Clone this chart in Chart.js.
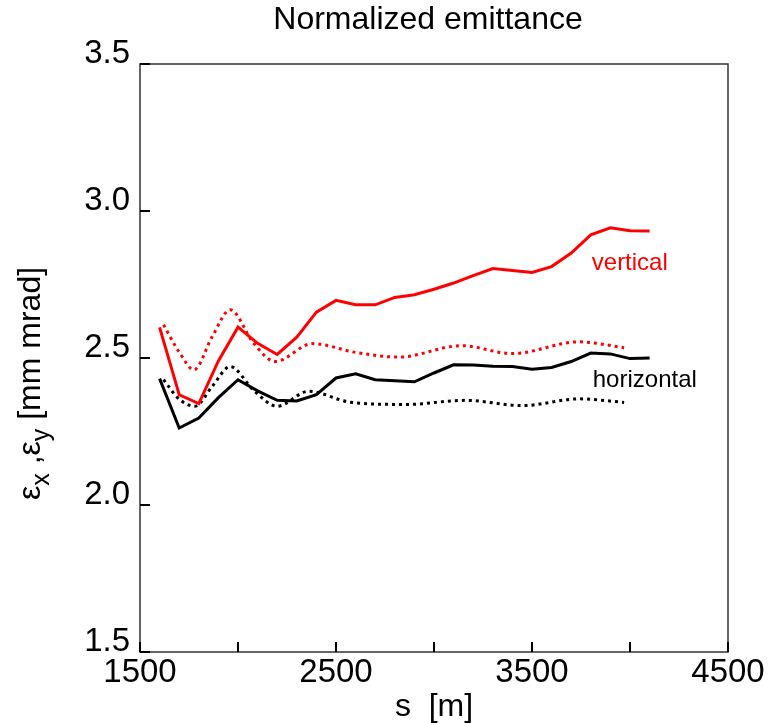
<!DOCTYPE html>
<html>
<head>
<meta charset="utf-8">
<script src="https://cdn.jsdelivr.net/npm/chart.js@4.4.0/dist/chart.umd.min.js"></script>
<style>
  html, body { margin: 0; padding: 0; background: #fff; }
  #wrap { width: 769px; height: 723px; }
</style>
</head>
<body>
<div id="wrap"><canvas id="myChart" width="769" height="723"></canvas></div>
<script>
// s positions of the tracked points [m]
const sSolid = [1600, 1700, 1800, 1900, 2000, 2100, 2200, 2300, 2400, 2500, 2600, 2700, 2800,
  2900, 3000, 3100, 3200, 3300, 3400, 3500, 3600, 3700, 3800, 3900, 4000, 4100];
const vertSolid = [2.604, 2.375, 2.345, 2.49, 2.605, 2.55, 2.512, 2.571, 2.656, 2.696, 2.681, 2.681, 2.706,
  2.715, 2.734, 2.755, 2.78, 2.804, 2.798, 2.791, 2.811, 2.857, 2.919, 2.943, 2.933, 2.932];
const horizSolid = [2.43, 2.262, 2.296, 2.365, 2.426, 2.388, 2.356, 2.354, 2.375, 2.432, 2.446, 2.426, 2.423,
  2.419, 2.449, 2.477, 2.476, 2.472, 2.471, 2.462, 2.468, 2.488, 2.517, 2.514, 2.498, 2.5];

// dotted (smoothed) curves
const sVertDot = [1620, 1700, 1775, 1870, 1960, 2080, 2190, 2380, 2600, 2820, 3140, 3400, 3740, 3970];
const vertDot = [2.613, 2.52, 2.46, 2.575, 2.664, 2.55, 2.488, 2.549, 2.519, 2.503, 2.542, 2.515, 2.555, 2.535];
const sHorizDot = [1620, 1700, 1780, 1870, 1960, 2080, 2200, 2360, 2570, 2860, 3160, 3450, 3740, 3970];
const horizDot = [2.426, 2.36, 2.336, 2.405, 2.471, 2.39, 2.336, 2.387, 2.35, 2.342, 2.356, 2.338, 2.361, 2.349];

const xTickLabels = [1500, 2500, 3500, 4500];
const yTickLabels = [1.5, 2.0, 2.5, 3.0, 3.5];

const FONT = "'Liberation Sans', Arial, Helvetica, sans-serif";

function pts(xs, ys) {
  return xs.map((x, i) => ({ x: x, y: ys[i] }));
}

// frame, inward ticks, title, y-axis label and curve names
const decorations = {
  id: 'decorations',
  afterDraw(chart) {
    const ctx = chart.ctx;
    const area = chart.chartArea;
    const xs = chart.scales.x;
    const ys = chart.scales.y;
    ctx.save();

    ctx.strokeStyle = '#333';
    ctx.lineWidth = 1.5;
    ctx.strokeRect(area.left, area.top, area.right - area.left, area.bottom - area.top);

    ctx.strokeStyle = '#000';
    ctx.lineWidth = 2;
    ctx.beginPath();
    for (let v = 1500; v <= 4500; v += 500) {
      const px = xs.getPixelForValue(v);
      ctx.moveTo(px, area.bottom);
      ctx.lineTo(px, area.bottom - 10);
    }
    yTickLabels.forEach(v => {
      const py = ys.getPixelForValue(v);
      ctx.moveTo(area.left, py);
      ctx.lineTo(area.left + 10, py);
    });
    ctx.stroke();

    // title
    ctx.fillStyle = '#000';
    ctx.font = '32px ' + FONT;
    ctx.textAlign = 'center';
    ctx.textBaseline = 'middle';
    ctx.fillText('Normalized emittance', (area.left + area.right) / 2 - 6, 20);

    // y axis label with subscripts, read bottom to top
    const parts = [
      { t: 'ε', sub: false }, { t: 'x', sub: true }, { t: ' ,', sub: false },
      { t: 'ε', sub: false }, { t: 'y', sub: true }, { t: ' [mm mrad]', sub: false }
    ];
    const big = '32px ' + FONT;
    const small = '25px ' + FONT;
    ctx.translate(31, 500);
    ctx.rotate(-Math.PI / 2);
    ctx.textAlign = 'left';
    ctx.textBaseline = 'middle';
    let cx = 0;
    parts.forEach(p => {
      ctx.font = p.sub ? small : big;
      ctx.fillText(p.t, cx, p.sub ? 11 : 0);
      cx += ctx.measureText(p.t).width;
    });
    ctx.setTransform(1, 0, 0, 1, 0, 0);

    // curve names
    ctx.font = '24px ' + FONT;
    ctx.textAlign = 'left';
    ctx.textBaseline = 'alphabetic';
    ctx.fillStyle = '#ff0000';
    ctx.fillText('vertical', xs.getPixelForValue(3805), ys.getPixelForValue(2.798));
    ctx.fillStyle = '#000';
    ctx.fillText('horizontal', xs.getPixelForValue(3810), ys.getPixelForValue(2.401));
    ctx.restore();
  }
};

const ctx = document.getElementById('myChart').getContext('2d');
new Chart(ctx, {
  type: 'line',
  data: {
    datasets: [
      {
        label: 'vertical',
        data: pts(sSolid, vertSolid),
        borderColor: '#ff0000',
        borderWidth: 3,
        pointRadius: 0,
        tension: 0,
      },
      {
        label: 'horizontal',
        data: pts(sSolid, horizSolid),
        borderColor: '#000000',
        borderWidth: 3,
        pointRadius: 0,
        tension: 0,
      },
      {
        label: 'vertical fit',
        data: pts(sVertDot, vertDot),
        borderColor: '#ff0000',
        borderWidth: 3,
        borderDash: [3, 4],
        pointRadius: 0,
        cubicInterpolationMode: 'monotone',
      },
      {
        label: 'horizontal fit',
        data: pts(sHorizDot, horizDot),
        borderColor: '#000000',
        borderWidth: 3,
        borderDash: [3, 4],
        pointRadius: 0,
        cubicInterpolationMode: 'monotone',
      },
    ],
  },
  options: {
    responsive: false,
    animation: false,
    layout: { padding: { top: 64, right: 41, left: 0, bottom: 0 } },
    plugins: {
      legend: { display: false },
      tooltip: { enabled: false },
      title: { display: false },
    },
    scales: {
      x: {
        type: 'linear',
        min: 1500,
        max: 4500,
        afterFit: (scale) => { scale.height = 71; },
        grid: { display: false, drawTicks: false },
        border: { display: false },
        ticks: {
          stepSize: 500,
          autoSkip: false,
          maxRotation: 0,
          padding: 1,
          color: '#000',
          font: { family: FONT, size: 33 },
          callback: (v) => (xTickLabels.includes(v) ? String(v) : ''),
        },
        title: {
          display: true,
          text: 's  [m]',
          color: '#000',
          font: { family: FONT, size: 32, lineHeight: 1.0 },
          padding: { top: 0, bottom: 0 },
        },
      },
      y: {
        type: 'linear',
        min: 1.5,
        max: 3.5,
        afterFit: (scale) => { scale.width = 140; },
        grid: { display: false, drawTicks: false },
        border: { display: false },
        ticks: {
          stepSize: 0.5,
          padding: 10,
          labelOffset: -10,
          color: '#000',
          font: { family: FONT, size: 33 },
          callback: (v) => (yTickLabels.includes(v) ? v.toFixed(1) : ''),
        },
      },
    },
  },
  plugins: [decorations],
});
</script>
</body>
</html>
